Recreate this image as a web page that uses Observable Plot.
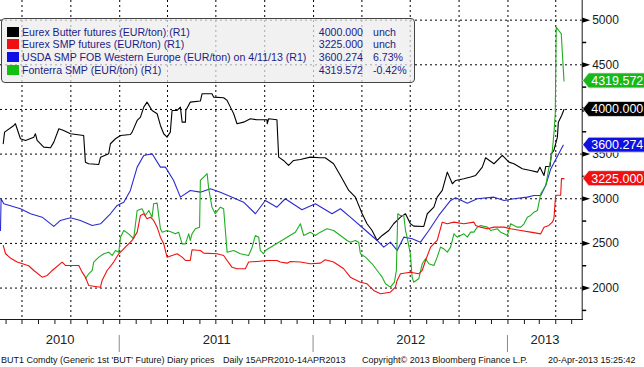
<!DOCTYPE html>
<html><head><meta charset="utf-8">
<script src="https://cdn.jsdelivr.net/npm/d3@7"></script>
<script src="https://cdn.jsdelivr.net/npm/@observablehq/plot@0.6"></script>
<style>
body{margin:0;background:#fff;font-family:"Liberation Sans",Arial,sans-serif;}
#wrap{position:relative;width:644px;height:367px;overflow:hidden;background:#fff;}
#chart{position:absolute;left:0;top:0;}
#legend{position:absolute;left:1px;top:18px;width:414px;height:65px;border:1px solid #444;border-radius:4px;background:rgba(236,236,236,0.72);box-sizing:border-box;font-size:10.6px;color:#1c1c86;}
#legend .row{position:absolute;left:0;width:100%;height:13px;line-height:13px;white-space:nowrap;}
#legend .sw{position:absolute;left:5px;top:1px;width:12px;height:10px;}
#legend .nm{position:absolute;left:20px;top:0;}
#legend .val{position:absolute;left:300px;width:61px;text-align:right;top:0;}
#legend .chg{position:absolute;left:371px;top:0;}
#footer{position:absolute;left:0;top:353px;width:644px;height:14px;font-size:9px;line-height:14px;color:#111;white-space:nowrap;}
#footer span{position:absolute;top:0;}
</style></head>
<body><div id="wrap"><div id="chart"></div><div id="legend"></div><div id="footer"></div></div>
<script>
// ---- data (decimal year, EUR/ton) ----
const butter = [[2010.399,3616],[2010.406,3746],[2010.454,3821],[2010.462,3840],[2010.488,3672],[2010.514,3653],[2010.557,3690],[2010.565,3728],[2010.574,3653],[2010.608,3578],[2010.643,3571],[2010.660,3634],[2010.686,3784],[2010.711,3765],[2010.746,3728],[2010.814,3709],[2010.823,3410],[2010.840,3392],[2010.892,3384],[2010.901,3466],[2010.943,3504],[2010.952,3616],[2010.978,3672],[2011.004,3709],[2011.055,3720],[2011.064,3746],[2011.090,3877],[2011.107,3914],[2011.124,4026],[2011.141,4082],[2011.167,3989],[2011.193,3952],[2011.210,3821],[2011.227,3728],[2011.244,3690],[2011.261,3746],[2011.270,3989],[2011.296,3989],[2011.313,4026],[2011.322,3858],[2011.339,3858],[2011.341,3989],[2011.364,4082],[2011.416,4094],[2011.425,4176],[2011.476,4176],[2011.485,4138],[2011.536,4131],[2011.554,4101],[2011.571,4026],[2011.588,3952],[2011.605,3840],[2011.639,3858],[2011.674,3896],[2011.708,3884],[2011.760,3884],[2011.761,3840],[2011.768,3896],[2011.811,3884],[2011.820,3466],[2011.845,3429],[2011.871,3373],[2011.897,3429],[2011.932,3440],[2011.983,3466],[2012.035,3459],[2012.060,3459],[2012.103,3392],[2012.138,3261],[2012.181,3093],[2012.215,3018],[2012.250,2832],[2012.275,2720],[2012.301,2645],[2012.327,2533],[2012.353,2589],[2012.387,2645],[2012.412,2720],[2012.447,2794],[2012.473,2832],[2012.498,2720],[2012.515,2694],[2012.567,2690],[2012.585,2832],[2012.619,2906],[2012.636,3018],[2012.662,3093],[2012.688,3298],[2012.714,3168],[2012.731,3205],[2012.773,3224],[2012.808,3243],[2012.834,3261],[2012.868,3354],[2012.885,3459],[2012.928,3392],[2012.971,3485],[2013.005,3410],[2013.031,3392],[2013.074,3336],[2013.117,3317],[2013.152,3298],[2013.165,3354],[2013.186,3261],[2013.195,3362],[2013.217,3362],[2013.224,3504],[2013.237,3541],[2013.255,3690],[2013.260,3858],[2013.277,3933],[2013.289,4000]];
const smp = [[2010.399,2477],[2010.411,2384],[2010.440,2330],[2010.471,2291],[2010.530,2250],[2010.557,2197],[2010.600,2122],[2010.626,2141],[2010.652,2197],[2010.703,2291],[2010.720,2253],[2010.789,2253],[2010.806,2178],[2010.823,2122],[2010.840,2029],[2010.901,2010],[2010.909,2085],[2010.935,2197],[2010.969,2291],[2010.995,2384],[2011.029,2458],[2011.064,2533],[2011.090,2626],[2011.107,2813],[2011.124,2832],[2011.141,2776],[2011.158,2794],[2011.175,2757],[2011.193,2682],[2011.210,2570],[2011.227,2495],[2011.244,2346],[2011.270,2365],[2011.296,2384],[2011.322,2346],[2011.339,2309],[2011.364,2309],[2011.373,2429],[2011.416,2421],[2011.433,2391],[2011.502,2384],[2011.536,2365],[2011.554,2309],[2011.579,2234],[2011.605,2216],[2011.648,2216],[2011.665,2291],[2011.708,2298],[2011.760,2309],[2011.811,2309],[2011.828,2291],[2011.863,2279],[2011.880,2298],[2011.932,2291],[2011.983,2272],[2012.035,2279],[2012.060,2317],[2012.103,2291],[2012.155,2216],[2012.189,2122],[2012.241,2066],[2012.275,2048],[2012.309,1973],[2012.344,1936],[2012.395,1954],[2012.421,2010],[2012.430,2085],[2012.447,2160],[2012.498,2178],[2012.541,2160],[2012.559,2197],[2012.576,2309],[2012.602,2458],[2012.636,2533],[2012.662,2738],[2012.688,2720],[2012.722,2738],[2012.773,2720],[2012.825,2738],[2012.834,2701],[2012.859,2682],[2012.894,2664],[2012.928,2682],[2012.980,2682],[2013.014,2664],[2013.066,2645],[2013.117,2626],[2013.169,2607],[2013.186,2682],[2013.211,2701],[2013.229,2738],[2013.237,2776],[2013.246,3040],[2013.272,3040],[2013.276,3225],[2013.289,3225]];
const usda = [[2010.385,2645],[2010.388,3000],[2010.402,2944],[2010.488,2888],[2010.540,2832],[2010.600,2794],[2010.660,2690],[2010.694,2757],[2010.746,2787],[2010.797,2757],[2010.858,2701],[2010.901,2720],[2010.952,2832],[2010.987,2925],[2011.021,2962],[2011.055,3093],[2011.090,3354],[2011.124,3485],[2011.167,3504],[2011.210,3354],[2011.236,3354],[2011.278,3205],[2011.313,3018],[2011.364,3093],[2011.416,3074],[2011.468,3112],[2011.519,3074],[2011.571,3026],[2011.639,2962],[2011.700,2832],[2011.751,2981],[2011.811,2906],[2011.854,3000],[2011.940,2877],[2012.009,2944],[2012.095,2832],[2012.138,2888],[2012.189,2794],[2012.258,2664],[2012.327,2533],[2012.361,2458],[2012.395,2514],[2012.430,2421],[2012.464,2570],[2012.507,2552],[2012.550,2514],[2012.593,2645],[2012.644,2813],[2012.705,2981],[2012.731,3011],[2012.791,2951],[2012.842,3000],[2012.928,3018],[2012.980,2981],[2013.031,3000],[2013.100,3018],[2013.134,3037],[2013.169,3037],[2013.195,3150],[2013.220,3330],[2013.285,3600]];
const fonterra = [[2010.823,2104],[2010.840,2160],[2010.858,2197],[2010.866,2291],[2010.892,2346],[2010.918,2384],[2010.943,2402],[2010.961,2365],[2010.978,2421],[2010.995,2402],[2011.004,2570],[2011.021,2645],[2011.046,2607],[2011.072,2552],[2011.090,2869],[2011.115,2888],[2011.132,2813],[2011.150,2869],[2011.167,2794],[2011.175,2944],[2011.193,2951],[2011.210,2664],[2011.219,2626],[2011.244,2645],[2011.270,2626],[2011.287,2607],[2011.304,2626],[2011.322,2495],[2011.339,2495],[2011.356,2607],[2011.364,2533],[2011.373,2607],[2011.390,2664],[2011.412,2682],[2011.416,3205],[2011.433,3243],[2011.451,3280],[2011.459,3112],[2011.476,2906],[2011.493,2832],[2011.519,2906],[2011.536,2888],[2011.554,2402],[2011.588,2421],[2011.622,2384],[2011.665,2365],[2011.683,2458],[2011.700,2589],[2011.717,2570],[2011.725,2421],[2011.742,2384],[2011.751,2421],[2011.906,2626],[2011.932,2720],[2011.949,2589],[2011.983,2626],[2012.009,2589],[2012.035,2626],[2012.069,2664],[2012.103,2645],[2012.138,2589],[2012.172,2533],[2012.189,2514],[2012.215,2533],[2012.232,2514],[2012.241,2384],[2012.267,2346],[2012.301,2272],[2012.327,2197],[2012.353,2122],[2012.370,2048],[2012.395,2010],[2012.416,2066],[2012.426,2197],[2012.433,2832],[2012.447,2813],[2012.464,2813],[2012.473,2645],[2012.481,2570],[2012.498,2384],[2012.507,2122],[2012.515,2066],[2012.541,2104],[2012.559,2272],[2012.576,2328],[2012.593,2272],[2012.619,2253],[2012.636,2346],[2012.653,2458],[2012.670,2440],[2012.688,2402],[2012.705,2458],[2012.722,2607],[2012.739,2570],[2012.756,2589],[2012.773,2607],[2012.791,2570],[2012.808,2626],[2012.825,2626],[2012.842,2682],[2012.859,2701],[2012.894,2682],[2012.911,2645],[2012.946,2664],[2012.962,2626],[2012.980,2607],[2012.997,2589],[2013.014,2720],[2013.031,2701],[2013.049,2682],[2013.066,2682],[2013.083,2720],[2013.100,2794],[2013.117,2813],[2013.134,2850],[2013.152,2869],[2013.169,3056],[2013.195,3149],[2013.212,3354],[2013.220,3429],[2013.229,3541],[2013.237,3728],[2013.244,3952],[2013.249,4922],[2013.261,4885],[2013.275,4848],[2013.289,4320]];

const seriesNames = ["Eurex Butter futures (EUR/ton) (R1)","Eurex SMP futures (EUR/ton) (R1)","USDA SMP FOB Western Europe (EUR/ton) on 4/11/13 (R1)","Fonterra SMP (EUR/ton) (R1)"];
const seriesColors = ["#000000","#f01010","#2a2ad2","#1fae1f"];
const swatchColors = ["#000000","#f01010","#1010e6","#12c012"];
const tagColors = ["#000000","#f01010","#1010e0","#18b818"];
const lastValues = [4000.000, 3225.000, 3600.274, 4319.572];
const changes = ["unch","unch","6.73%","-0.42%"];
const yTicks = [2000,2500,3000,3500,4000,4500,5000];
const yMinorTicks = [1750,2250,2750,3250,3750,4250,4750];
const yDomain = [1648, 5220];
const xDomainYears = [2010.385, 2013.383];
const yearLabels = ["2010","2011","2012","2013"];
const footerTexts = ["BUT1 Comdty (Generic 1st 'BUT' Future) Diary prices","Daily 15APR2010-14APR2013","Copyright\u00a9 2013 Bloomberg Finance L.P.","20-Apr-2013 15:25:42"];

// ---- helpers ----
function dy(t){const y=Math.floor(t);const a=Date.UTC(y,0,1),b=Date.UTC(y+1,0,1);return new Date(a+(t-y)*(b-a));}
const xStart = dy(xDomainYears[0]), xEnd = dy(xDomainYears[1]);
const allSeries = [butter, smp, usda, fonterra];
const rows = allSeries.flatMap((s,i)=>s.map(([t,v])=>({date:dy(t),value:v,series:i})));
const monthTicks = d3.utcMonth.range(d3.utcMonth.ceil(xStart), xEnd);
const quarterTicks = monthTicks.filter(d=>d.getUTCMonth()%3===0);
const yearStarts = d3.utcYear.range(d3.utcYear.ceil(xStart), xEnd);
const yearMids = yearLabels.map(y=>{const s=new Date(Date.UTC(+y,0,1)), e=new Date(Date.UTC(+y+1,0,1));
  const a=Math.max(+s,+xStart), b=Math.min(+e,+xEnd); return {date:new Date((a+b)/2), label:y};});

const triRight = {draw(ctx){ctx.moveTo(0,-2.6);ctx.lineTo(8,0);ctx.lineTo(0,2.6);ctx.closePath();}};
const minorTick = {draw(ctx){ctx.moveTo(0,0);ctx.lineTo(4,0);}};

const dash = "2,3";
const plot = Plot.plot({
  width: 644, height: 353,
  marginLeft: 0, marginRight: 62.3, marginTop: 0, marginBottom: 34,
  style: {fontFamily: "'Liberation Sans', Arial, sans-serif", fontSize: "12px", color: "#1a1a1a", background: "transparent", overflow: "visible"},
  x: {type: "utc", domain: [xStart, xEnd], ticks: monthTicks, tickSize: 5, tickFormat: () => "", label: null, line: true},
  y: {domain: yDomain, axis: "right", ticks: yTicks, tickSize: 0, tickPadding: 10, tickFormat: d => String(d), label: null, line: true},
  marks: [
    Plot.ruleY(yTicks, {y: d=>d, stroke: "#000", strokeDasharray: dash, strokeWidth: 1}),
    Plot.ruleX(quarterTicks, {x: d=>d, stroke: "#000", strokeDasharray: dash, strokeWidth: 1}),
    Plot.line(rows.filter(d=>d.series===0), {x:"date", y:"value", stroke: seriesColors[0], strokeWidth: 1.1}),
    Plot.line(rows.filter(d=>d.series===2), {x:"date", y:"value", stroke: seriesColors[2], strokeWidth: 1.1}),
    Plot.line(rows.filter(d=>d.series===3), {x:"date", y:"value", stroke: seriesColors[3], strokeWidth: 1.1}),
    Plot.line(rows.filter(d=>d.series===1), {x:"date", y:"value", stroke: seriesColors[1], strokeWidth: 1.1}),
    Plot.dot(yTicks, {y: d=>d, frameAnchor: "right", symbol: triRight, r: 3, fill: "#000", stroke: "none"}),
    Plot.dot(yMinorTicks, {y: d=>d, frameAnchor: "right", symbol: minorTick, r: 3, fill: "none", stroke: "#000"}),
    Plot.text(yearMids, {x: "date", text: "label", frameAnchor: "bottom", dy: 24, fontSize: 13, fill: "#222"})
  ]
});
document.getElementById("chart").appendChild(plot);

// year separators and value tags, positioned through the plot's scales
const sx = plot.scale("x"), sy = plot.scale("y");
const svg = d3.select(plot);
const xRight = sx.range[1];
const yBottom = sy.range[0];
svg.append("g").selectAll("line").data(yearStarts).join("line")
  .attr("x1", d=>sx.apply(d)).attr("x2", d=>sx.apply(d))
  .attr("y1", yBottom+16).attr("y2", yBottom+33).attr("stroke","#8a8a8a").attr("stroke-width",1);
const tags = svg.append("g").attr("text-anchor","start");
lastValues.forEach((v,i)=>{
  const y = sy.apply(v), x0 = xRight+1, h=7.5;
  tags.append("path").attr("d", `M${x0},${y}L${x0+6},${y-h}L${646},${y-h}L${646},${y+h}L${x0+6},${y+h}Z`)
    .attr("fill", tagColors[i]).attr("stroke","#e8e8e8").attr("stroke-width",0.8);
  tags.append("text").attr("x", x0+8.5).attr("y", y).attr("dy","0.36em")
    .attr("fill","#fff").attr("font-size","12.5px").text(v.toFixed(3));
});

// legend
const leg = document.getElementById("legend");
seriesNames.forEach((n,i)=>{
  const r = document.createElement("div"); r.className="row"; r.style.top=(6.8+i*12.6)+"px";
  r.innerHTML = `<div class="sw" style="background:${swatchColors[i]}"></div><span class="nm">${n}</span><span class="val">${lastValues[i].toFixed(3)}</span><span class="chg">${changes[i]}</span>`;
  leg.appendChild(r);
});
// footer
const foot = document.getElementById("footer");
const footLeft = [1, 223, 362, 548];
footerTexts.forEach((t,i)=>{const s=document.createElement("span"); s.style.left=footLeft[i]+"px"; s.textContent=t; foot.appendChild(s);});
</script></body></html>
